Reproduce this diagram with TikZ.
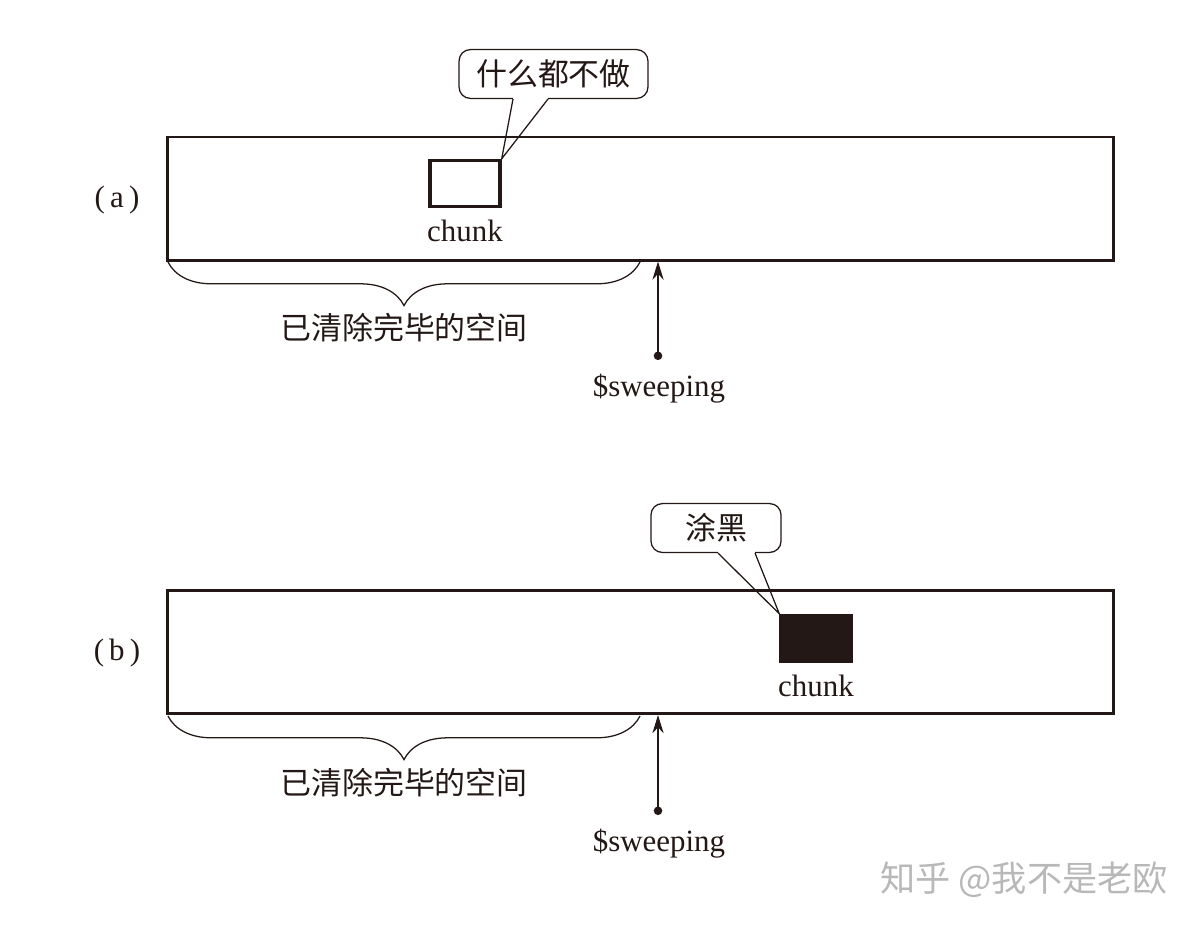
\documentclass[tikz,border=0pt]{standalone}
\usepackage{fontspec}
\setmainfont{Liberation Serif}
\newfontfamily\cjk{Noto Sans CJK SC}
\usepackage{xcolor}
\usetikzlibrary{arrows, arrows.meta, decorations.pathreplacing, calc}
\definecolor{ink}{HTML}{231815}
\tikzset{
  panel/.style={draw=ink, line width=2.1pt, minimum width=23.625cm, minimum height=3.075cm, inner sep=0pt},
  chunkbox/.style={draw=ink, line width=2.4pt, minimum width=1.75cm, minimum height=1.15cm, inner sep=0pt},
  bubble/.style={draw=ink, line width=0.9pt, rounded corners=8pt, fill=white, inner sep=0pt, minimum height=1.22cm},
  txt/.style={text=ink, font=\fontsize{22}{26}\selectfont, inner sep=0pt},
  cjktxt/.style={text=ink, font=\fontsize{22}{26}\selectfont\cjk, inner sep=0pt},
  span/.style={draw=ink, line width=0.9pt, decorate, decoration={brace, mirror, amplitude=31pt}},
  sweep/.style={draw=ink, line width=1.2pt, {Circle[length=6pt]}-{Stealth[length=13pt, width=8pt]}}
}

\begin{document}
\begin{tikzpicture}[x=0.025cm, y=-0.025cm]
\useasboundingbox (0,0) rectangle (1200,930);
%\draw[step=50,gray,very thin] (0,0) grid (1200,930); %background grid

% (a)
\node[txt] (taga) at (117,200) {(\,a\,)};
\node[panel] (pana) at (640.5,198.5) {};
\node[chunkbox] (chunka) at (465,183.5) {};
\node[txt] (labchunka) at (465,231) {chunk};
\node[bubble, minimum width=4.72cm] (calla) at (553.5,74) {};
\node[cjktxt] (texta) at (553.5,74) {什么都不做};
\fill[white] (513,96.5) -- (548,96.5) -- (548,100) -- (513,100) -- cycle;
\draw[ink, line width=0.9pt, line join=miter] ($(calla.south)+(-40.5,0)$) -- (chunka.north east) -- ($(calla.south)+(-5.5,0)$);
\coordinate (bla) at (168,262);
\coordinate (bra) at (640,262);
\draw[span] (bla) -- (bra);
\node[cjktxt] (donea) at (404,328) {已清除完毕的空间};
\coordinate (dota) at (658,360);
\draw[sweep] (dota) -- (pana.south -| dota);
\node[txt] (sweepa) at (659,389) {\$sweeping};

% (b)
\node[txt] (tagb) at (117,653) {(\,b\,)};
\node[panel] (panb) at (640.5,652) {};
\node[chunkbox, fill=ink] (chunkb) at (816,638.5) {};
\node[txt] (labchunkb) at (816,686) {chunk};
\node[bubble, minimum width=3.25cm] (callb) at (716,528) {};
\node[cjktxt] (textb) at (716,528) {涂黑};
\fill[white] (718,550.5) -- (755,550.5) -- (755,554) -- (718,554) -- cycle;
\draw[ink, line width=0.9pt, line join=miter] ($(callb.south)+(2,0)$) -- (chunkb.north west) -- ($(callb.south)+(39,0)$);
\coordinate (blb) at (168,716);
\coordinate (brb) at (640,716);
\draw[span] (blb) -- (brb);
\node[cjktxt] (doneb) at (404,783) {已清除完毕的空间};
\coordinate (dotb) at (658,815);
\draw[sweep] (dotb) -- (panb.south -| dotb);
\node[txt] (sweepb) at (659,844) {\$sweeping};

\node[text=black!28, font=\fontsize{25}{28}\selectfont\cjk, inner sep=0pt] (mark) at (1024,880) {知乎 @我不是老欧};
\end{tikzpicture}
\end{document}
